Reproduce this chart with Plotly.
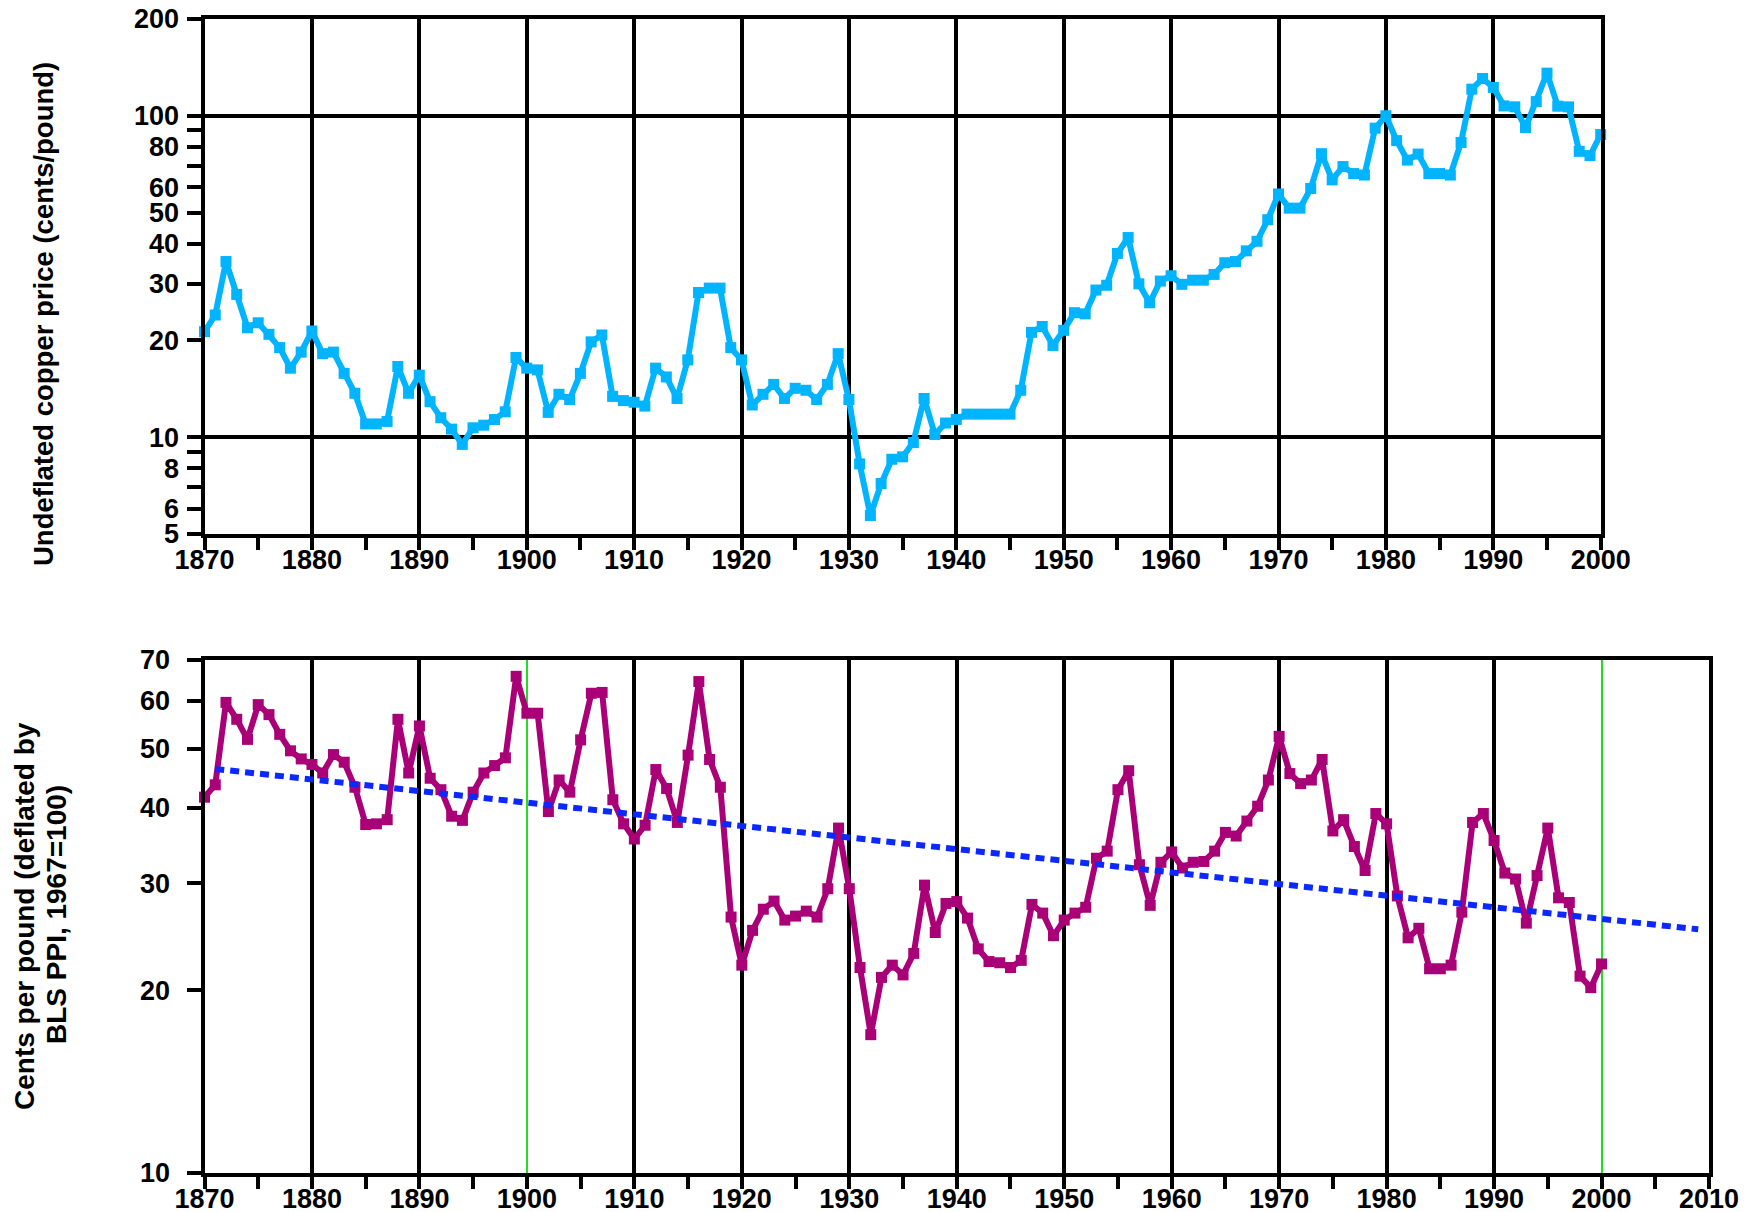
import math
import plotly.graph_objects as go

# ---------------- data ----------------
years = list(range(1870, 2001))

nominal_price = [
    21.3, 24.0, 35.2, 27.8, 21.9, 22.7, 20.9, 19.0, 16.4, 18.4,   # 1870-1879
    21.4, 18.2, 18.4, 15.8, 13.7, 11.0, 11.0, 11.2, 16.6, 13.7,   # 1880-1889
    15.6, 12.9, 11.5, 10.6, 9.5, 10.7, 10.9, 11.35, 12.0, 17.7,   # 1890-1899
    16.4, 16.2, 11.95, 13.6, 13.1, 15.8, 19.8, 20.8, 13.4, 13.0,  # 1900-1909
    12.85, 12.5, 16.4, 15.4, 13.2, 17.4, 28.2, 29.1, 29.1, 19.0,  # 1910-1919
    17.4, 12.6, 13.6, 14.6, 13.2, 14.2, 14.0, 13.1, 14.6, 18.2,   # 1920-1929
    13.1, 8.26, 5.71, 7.18, 8.54, 8.69, 9.63, 13.2, 10.2, 11.07,  # 1930-1939
    11.36, 11.8, 11.8, 11.8, 11.8, 11.8, 14.0, 21.2, 22.1, 19.3,  # 1940-1949
    21.5, 24.4, 24.2, 28.7, 29.7, 37.3, 41.8, 30.0, 26.2, 30.6,   # 1950-1959
    31.8, 29.9, 30.8, 30.8, 32.1, 34.9, 35.2, 38.0, 40.7, 47.5,   # 1960-1969
    57.1, 51.6, 51.6, 59.4, 76.2, 63.2, 69.5, 66.1, 65.4, 91.5,   # 1970-1979
    100.0, 83.7, 72.8, 76.0, 66.1, 66.1, 65.4, 82.6, 121.0, 130.6,  # 1980-1989
    122.5, 107.3, 106.6, 91.9, 110.7, 135.7, 107.1, 106.6, 77.5, 75.2,  # 1990-1999
    87.4,                                                          # 2000
]

real_price = [
    41.6, 43.6, 59.6, 55.9, 51.8, 59.1, 56.9, 52.8, 49.6, 48.1,   # 1870-1879
    47.1, 45.6, 48.9, 47.5, 43.2, 37.5, 37.6, 38.2, 55.9, 45.6,   # 1880-1889
    54.5, 44.7, 42.8, 38.7, 38.1, 42.4, 45.6, 46.9, 48.3, 65.8,   # 1890-1899
    57.2, 57.2, 39.4, 44.4, 42.4, 51.7, 61.7, 61.9, 41.2, 37.6,   # 1900-1909
    35.5, 37.4, 46.2, 43.0, 37.8, 48.8, 64.5, 48.0, 43.2, 26.4,   # 1910-1919
    22.0, 25.1, 27.2, 28.05, 26.1, 26.5, 27.0, 26.4, 29.4, 37.0,  # 1920-1929
    29.4, 21.8, 16.9, 21.0, 22.0, 21.2, 23.0, 29.8, 24.9, 27.8,   # 1930-1939
    28.0, 26.3, 23.4, 22.3, 22.2, 21.8, 22.4, 27.7, 26.8, 24.6,   # 1940-1949
    26.1, 26.8, 27.4, 33.0, 33.9, 42.8, 46.0, 32.2, 27.6, 32.5,   # 1950-1959
    33.8, 31.8, 32.5, 32.6, 33.9, 36.4, 35.9, 38.0, 40.2, 44.4,   # 1960-1969
    52.4, 45.5, 43.8, 44.4, 48.0, 36.6, 38.2, 34.5, 31.5, 39.1,   # 1970-1979
    37.6, 28.6, 24.4, 25.3, 21.7, 21.7, 22.0, 26.9, 37.8, 39.1,   # 1980-1989
    35.3, 31.2, 30.5, 25.8, 30.9, 37.0, 28.4, 27.9, 21.1, 20.2,   # 1990-1999
    22.1,                                                          # 2000
]

trend_years = [1871, 2009]
trend_values = [46.3, 25.2]

top_decades = list(range(1870, 2001, 10))
top_half = list(range(1875, 2000, 10))
bottom_decades = list(range(1870, 2011, 10))
bottom_half = list(range(1875, 2010, 10))
bottom_black_grid = [1880, 1890, 1910, 1920, 1930, 1940, 1950, 1960, 1970, 1980, 1990, 2010]
bottom_green_grid = [1900, 2000]

top_y_ticks = [5, 6, 7, 8, 9, 10, 20, 30, 40, 50, 60, 70, 80, 90, 100, 200]
top_y_labels = ['5', '6', '', '8', '', '10', '20', '30', '40', '50', '60', '', '80', '', '100', '200']
top_y_grid = [10, 100]
bottom_y_ticks = [10, 20, 30, 40, 50, 60, 70]
bottom_y_labels = ['10', '20', '30', '40', '50', '60', '70']

top_title = 'Undeflated copper price (cents/pound)'
bottom_title_lines = ['Cents per pound (deflated by', 'BLS PPI, 1967=100)']

# ---------------- style ----------------
# The page body has an 8px margin; the figure is sized so that it fills the
# window exactly, and positions below are given in window pixels.
OFF = 8
W, H = 1751 - OFF, 1212 - OFF
CYAN = '#00B4FF'
MAGENTA = '#AA0077'
BLUE = '#0A28FF'
GREEN = '#22DD22'
LW = 4

def px_x(p):
    return (p - OFF) / W

def px_y(p):
    return 1 - (p - OFF) / H

top_xdom = [px_x(204.5), px_x(1600.7)]
top_ydom = [px_y(534), px_y(19)]
bot_xdom = [px_x(204.5), px_x(1709)]
bot_ydom = [px_y(1173), px_y(660)]

fig = go.Figure()

# helper (empty) traces so the grid-only overlay axes get their own subplots
for xa, ya in [('x', 'y3'), ('x3', 'y2'), ('x4', 'y2')]:
    fig.add_trace(go.Scatter(x=[None], y=[None], xaxis=xa, yaxis=ya, mode='lines',
                             hoverinfo='skip', showlegend=False))

fig.add_trace(go.Scatter(
    x=years, y=nominal_price, xaxis='x', yaxis='y', mode='lines+markers',
    line=dict(color=CYAN, width=6),
    marker=dict(symbol='square', size=11, color=CYAN, line=dict(width=0)),
    cliponaxis=False, showlegend=False,
))
fig.add_trace(go.Scatter(
    x=years, y=real_price, xaxis='x2', yaxis='y2', mode='lines+markers',
    line=dict(color=MAGENTA, width=6),
    marker=dict(symbol='square', size=11, color=MAGENTA, line=dict(width=0)),
    cliponaxis=False, showlegend=False,
))
fig.add_trace(go.Scatter(
    x=trend_years, y=trend_values, xaxis='x2', yaxis='y2', mode='lines',
    line=dict(color=BLUE, width=6, dash='9px,6px'),
    showlegend=False,
))

axis_common = dict(showline=True, linecolor='black', linewidth=LW, mirror=True,
                   zeroline=False, tickcolor='black', tickwidth=LW,
                   ticklabeloverflow='allow')

fig.update_layout(
    width=W, height=H,
    margin=dict(l=0, r=0, t=0, b=0, autoexpand=False),
    paper_bgcolor='white', plot_bgcolor='white',
    showlegend=False,
    font=dict(family='Liberation Sans, Arial, sans-serif', size=27, color='black', weight='bold'),
    xaxis=dict(
        domain=top_xdom, anchor='y', range=[1870, 2000],
        tickmode='array', tickvals=top_decades, ticktext=[str(v) for v in top_decades],
        ticks='outside', ticklen=12, ticklabelstandoff=-13,
        showgrid=True, gridcolor='black', gridwidth=LW,
        minor=dict(tickvals=top_half, ticks='outside', ticklen=12, tickwidth=LW,
                   tickcolor='black', showgrid=False),
        **axis_common,
    ),
    yaxis=dict(
        domain=top_ydom, anchor='x', type='log',
        range=[math.log10(5), math.log10(200)],
        tickmode='array', tickvals=top_y_ticks, ticktext=top_y_labels,
        ticks='outside', ticklen=14, ticklabelstandoff=2, showgrid=False,
        **axis_common,
    ),
    yaxis3=dict(
        overlaying='y', anchor='x', type='log',
        range=[math.log10(5), math.log10(200)],
        tickmode='array', tickvals=top_y_grid, showticklabels=False, ticks='',
        showgrid=True, gridcolor='black', gridwidth=LW,
        showline=False, zeroline=False,
    ),
    xaxis2=dict(
        domain=bot_xdom, anchor='y2', range=[1870, 2010],
        tickmode='array', tickvals=bottom_decades, ticktext=[str(v) for v in bottom_decades],
        ticks='outside', ticklen=12, ticklabelstandoff=-13, showgrid=False,
        minor=dict(tickvals=bottom_half, ticks='outside', ticklen=12, tickwidth=LW,
                   tickcolor='black', showgrid=False),
        **axis_common,
    ),
    xaxis3=dict(
        overlaying='x2', anchor='y2', range=[1870, 2010],
        tickmode='array', tickvals=bottom_black_grid, showticklabels=False, ticks='',
        showgrid=True, gridcolor='black', gridwidth=LW,
        showline=False, zeroline=False,
    ),
    xaxis4=dict(
        overlaying='x2', anchor='y2', range=[1870, 2010],
        tickmode='array', tickvals=bottom_green_grid, showticklabels=False, ticks='',
        showgrid=True, gridcolor=GREEN, gridwidth=2,
        showline=False, zeroline=False,
    ),
    yaxis2=dict(
        domain=bot_ydom, anchor='x2', type='log',
        range=[1, math.log10(70)],
        tickmode='array', tickvals=bottom_y_ticks, ticktext=bottom_y_labels,
        ticks='outside', ticklen=14, ticklabelstandoff=11, showgrid=False,
        **axis_common,
    ),
    annotations=[
        dict(text=top_title, textangle=-90, xref='paper', yref='paper',
             x=px_x(44), y=px_y(314), xanchor='center', yanchor='middle',
             showarrow=False, font=dict(size=27.5)),
        dict(text=bottom_title_lines[0], textangle=-90, xref='paper', yref='paper',
             x=px_x(24), y=px_y(916), xanchor='center', yanchor='middle',
             showarrow=False, font=dict(size=28)),
        dict(text=bottom_title_lines[1], textangle=-90, xref='paper', yref='paper',
             x=px_x(56), y=px_y(915), xanchor='center', yanchor='middle',
             showarrow=False, font=dict(size=28)),
    ],
)

fig.write_html('out.html')
